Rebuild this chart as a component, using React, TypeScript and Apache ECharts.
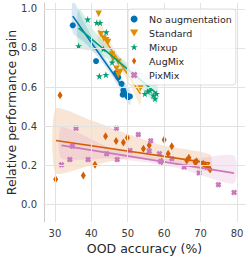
import React, { useEffect, useRef } from "react";
import * as echarts from "echarts";

const xTicks = [30, 40, 50, 60, 70, 80];
const yTicks = [0, 0.2, 0.4, 0.6, 0.8, 1.0];
const seriesNames = ["No augmentation", "Standard", "Mixup", "AugMix", "PixMix"];
const colors = ["#0173b2", "#de8f05", "#029e73", "#d55e00", "#cc78bc"];

const noAugX = [34.9, 41.3, 46.8, 47.4, 48.3, 48.8, 48.6, 49.7, 50.1, 50.6];
const noAugY = [0.916, 0.733, 0.672, 0.65, 0.617, 0.583, 0.561, 0.558, 0.549, 0.552];

const stdX = [42.0, 42.6, 43.4, 44.1, 44.6, 45.7, 46.0, 47.4, 46.9, 47.9, 47.4, 53.5];
const stdY = [0.975, 0.87, 0.848, 0.839, 0.83, 0.766, 0.745, 0.728, 0.694, 0.677, 0.663, 0.595];

const mixX = [36.5, 39.0, 41.5, 42.4, 44.1, 43.3, 45.7, 42.2, 44.0, 54.7, 55.5, 56.1, 57.0, 57.9, 57.5];
const mixY = [0.81, 0.946, 0.929, 0.929, 0.881, 0.795, 0.726, 0.656, 0.663, 0.566, 0.578, 0.583, 0.558, 0.566, 0.541];

const augX = [30.2, 31.4, 37.8, 41.0, 43.9, 46.8, 48.8, 49.9, 54.3, 55.9, 60.0, 59.3, 61.1, 62.1, 66.2, 66.8, 68.5, 68.9, 70.7, 71.4, 72.1, 72.6];
const augY = [0.128, 0.558, 0.148, 0.203, 0.349, 0.324, 0.316, 0.341, 0.285, 0.302, 0.331, 0.22, 0.259, 0.297, 0.225, 0.239, 0.216, 0.221, 0.208, 0.196, 0.191, 0.179];

const pixX = [31.8, 34.1, 34.8, 35.8, 39.1, 44.2, 46.9, 47.1, 50.6, 52.9, 56.3, 55.9, 58.7, 59.0, 62.1, 65.5, 69.6, 74.9, 79.2];
const pixY = [0.203, 0.229, 0.298, 0.39, 0.229, 0.259, 0.39, 0.229, 0.276, 0.357, 0.325, 0.273, 0.259, 0.22, 0.234, 0.191, 0.161, 0.101, 0.061];

// fitted regression lines
const noAugFitX = [34.9, 50.6];
const noAugFitY = [0.963, 0.547];
const stdFitX = [42.0, 53.5];
const stdFitY = [0.89, 0.565];
const mixFitX = [36.5, 57.9];
const mixFitY = [0.902, 0.568];
const augFitX = [30.2, 72.6];
const augFitY = [0.327, 0.211];
const pixFitX = [31.8, 79.2];
const pixFitY = [0.302, 0.16];

// confidence bands
const noAugBandX = [34.9, 38, 42, 46, 50.6];
const noAugBandLo = [0.878, 0.831, 0.75, 0.647, 0.507];
const noAugBandHi = [1.048, 0.931, 0.8, 0.691, 0.587];
const stdBandX = [42, 45, 48, 51, 53.5];
const stdBandLo = [0.83, 0.776, 0.697, 0.599, 0.505];
const stdBandHi = [0.95, 0.836, 0.747, 0.679, 0.625];
const mixBandX = [36.5, 41, 46, 51, 57.9];
const mixBandLo = [0.802, 0.782, 0.724, 0.646, 0.513];
const mixBandHi = [1.002, 0.882, 0.784, 0.706, 0.623];
const augBandX = [30.2, 40, 50, 60, 72.6];
const augBandLo = [0.16, 0.2, 0.235, 0.225, 0.17];
const augBandHi = [0.49, 0.43, 0.36, 0.3, 0.255];
const pixBandX = [31.8, 45, 55, 65, 79.2];
const pixBandLo = [0.235, 0.235, 0.215, 0.18, 0.107];
const pixBandHi = [0.395, 0.29, 0.25, 0.225, 0.25];

const STAR =
  "path://M0,-1 L0.2245,-0.309 L0.951,-0.309 L0.363,0.118 L0.588,0.809 L0,0.382 L-0.588,0.809 L-0.363,0.118 L-0.951,-0.309 L-0.2245,-0.309 Z";
const TRI_DOWN = "path://M-1,-0.8 L1,-0.8 L0,0.9 Z";
const XMARK =
  "path://M-0.5,-0.2 L-0.2,-0.5 L0,-0.3 L0.2,-0.5 L0.5,-0.2 L0.3,0 L0.5,0.2 L0.2,0.5 L0,0.3 L-0.2,0.5 L-0.5,0.2 L-0.3,0 Z";
const THIN_DIAMOND = "path://M0,-1 L0.6,0 L0,1 L-0.6,0 Z";

const FONT = "DejaVu Sans";

function zip(xs: number[], ys: number[]) {
  return xs.map((x, i) => [x, ys[i]]);
}

function bandSeries(bx: number[], lo: number[], hi: number[], color: string) {
  return {
    type: "custom",
    name: "band",
    silent: true,
    clip: true,
    z: 1,
    data: [[bx[0], lo[0]]],
    renderItem: (_params: any, api: any) => {
      const pts: number[][] = [];
      for (let i = 0; i < bx.length; i++) pts.push(api.coord([bx[i], hi[i]]));
      for (let i = bx.length - 1; i >= 0; i--) pts.push(api.coord([bx[i], lo[i]]));
      return {
        type: "polygon",
        shape: { points: pts, smooth: 0.2 },
        style: { fill: color, opacity: 0.16 },
      };
    },
  };
}

function lineSeries(fx: number[], fy: number[], color: string) {
  return {
    type: "line",
    name: "fit",
    silent: true,
    z: 3,
    symbol: "none",
    showSymbol: false,
    data: zip(fx, fy),
    lineStyle: { color, width: 1.6 },
  };
}

export default function App() {
  const ref = useRef<HTMLDivElement>(null);
  useEffect(() => {
    if (!ref.current) return;
    const chart = echarts.init(ref.current, undefined, { renderer: "svg" });
    const scatterDefs = [
      { x: noAugX, y: noAugY, symbol: "circle", size: 6 },
      { x: stdX, y: stdY, symbol: TRI_DOWN, size: 6.5 },
      { x: mixX, y: mixY, symbol: STAR, size: 7 },
      { x: augX, y: augY, symbol: THIN_DIAMOND, size: [5, 8] },
      { x: pixX, y: pixY, symbol: XMARK, size: 6 },
    ];
    const option: any = {
      animation: false,
      grid: { left: 44, right: 4, top: 3, bottom: 40, containLabel: false, outerBoundsMode: "none" },
      legend: {
        data: seriesNames,
        orient: "vertical",
        left: 128,
        top: 9,
        z: 10,
        selectedMode: false,
        symbolKeepAspect: true,
        itemWidth: 20,
        itemHeight: 7,
        itemGap: 2,
        padding: [4, 4, 4, 2],
        backgroundColor: "rgba(255,255,255,0.8)",
        borderColor: "#d6d6d6",
        borderWidth: 0.8,
        borderRadius: 3,
        textStyle: { fontFamily: FONT, fontSize: 9.5, color: "#262626", lineHeight: 12 },
      },
      xAxis: {
        type: "value",
        min: 27,
        max: 82.2,
        interval: 1,
        name: "OOD accuracy (%)",
        nameLocation: "middle",
        nameGap: 20,
        nameMoveOverlap: false,
        nameTextStyle: { fontFamily: FONT, fontSize: 12.5, color: "#262626" },
        axisLine: { show: true, lineStyle: { color: "#cccccc", width: 1 } },
        axisTick: { show: false },
        splitLine: { show: false },
        axisLabel: {
          fontFamily: FONT,
          fontSize: 10,
          color: "#3a3a3a",
          margin: 6,
          formatter: (v: number) => {
            const r = Math.round(v);
            return Math.abs(v - r) < 1e-6 && xTicks.includes(r) ? String(r) : "";
          },
        },
      },
      yAxis: {
        type: "value",
        min: -0.09,
        max: 1.03,
        interval: 0.01,
        name: "Relative performance gain",
        nameLocation: "middle",
        nameGap: 26,
        nameMoveOverlap: false,
        nameTextStyle: { fontFamily: FONT, fontSize: 12.5, color: "#262626" },
        axisLine: { show: true, lineStyle: { color: "#cccccc", width: 1 } },
        axisTick: { show: false },
        splitLine: { show: false },
        axisLabel: {
          fontFamily: FONT,
          fontSize: 10,
          color: "#3a3a3a",
          margin: 7,
          formatter: (v: number) => {
            const r = Math.round(v * 10) / 10;
            return Math.abs(v - r) < 1e-6 && yTicks.includes(r) ? r.toFixed(1) : "";
          },
        },
      },
      series: [
        {
          type: "line",
          name: "grid",
          data: [],
          silent: true,
          z: 0,
          markLine: {
            silent: true,
            symbol: ["none", "none"],
            label: { show: false },
            lineStyle: { color: "#e2e2e2", width: 1, type: "solid" },
            emphasis: { disabled: true },
            data: [
              ...xTicks.map((v) => ({ xAxis: v })),
              ...yTicks.map((v) => ({ yAxis: v })),
            ],
          },
        },
        bandSeries(noAugBandX, noAugBandLo, noAugBandHi, colors[0]),
        bandSeries(stdBandX, stdBandLo, stdBandHi, colors[1]),
        bandSeries(mixBandX, mixBandLo, mixBandHi, colors[2]),
        bandSeries(augBandX, augBandLo, augBandHi, colors[3]),
        bandSeries(pixBandX, pixBandLo, pixBandHi, colors[4]),
        ...scatterDefs.map((d, i) => ({
          type: "scatter",
          name: seriesNames[i],
          data: zip(d.x, d.y),
          symbol: d.symbol,
          symbolSize: d.size,
          itemStyle: { color: colors[i], opacity: 1 },
          z: 2,
        })),
        lineSeries(noAugFitX, noAugFitY, colors[0]),
        lineSeries(stdFitX, stdFitY, colors[1]),
        lineSeries(mixFitX, mixFitY, colors[2]),
        lineSeries(augFitX, augFitY, colors[3]),
        lineSeries(pixFitX, pixFitY, colors[4]),
      ],
    };
    chart.setOption(option);
    return () => chart.dispose();
  }, []);
  return (
    <div
      ref={ref}
      style={{ position: "fixed", left: 0, top: 0, width: 249, height: 262, background: "#fff" }}
    />
  );
}
